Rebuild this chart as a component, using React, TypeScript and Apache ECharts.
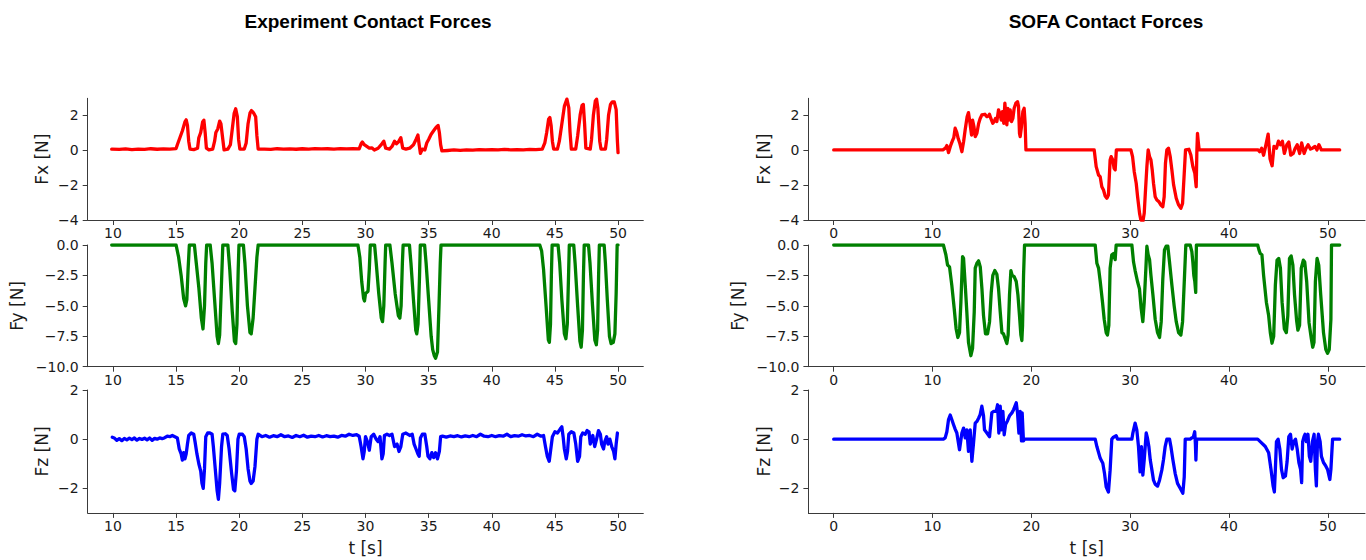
import React, { useEffect, useRef } from "react";
import * as echarts from "echarts";

type P = [number, number];

// ---- Tick labels / axis texts ----
const expTicksX = [10, 15, 20, 25, 30, 35, 40, 45, 50];
const sofaTicksX = [0, 10, 20, 30, 40, 50];
const fxTicks = [-4, -2, 0, 2];
const fyTicks = [-10, -7.5, -5, -2.5, 0];
const fzTicks = [-2, 0, 2];
const rowNames = ["Fx [N]", "Fy [N]", "Fz [N]"];
const titles = ["Experiment Contact Forces", "SOFA Contact Forces"];

// ---- Experiment data [t, value] ----
const expFx: P[] = [
  [9.9, 0.05], [10.5, 0.03], [11, 0.06], [11.5, 0.02], [12, 0.05], [12.5, 0.03], [13, 0.07], [13.5, 0.04], [14, 0.06], [14.5, 0.05], [15, 0.08],
  [15.1, 0.3], [15.3, 0.7], [15.5, 1.1], [15.7, 1.6], [15.8, 1.72], [15.9, 1.4], [16.0, 0.5], [16.1, 0.05],
  [16.4, 0.02], [16.7, 0.1], [16.8, 0.7], [16.95, 1.0], [17.1, 1.6], [17.2, 1.7], [17.3, 1.0], [17.4, 0.1], [17.6, 0.0], [17.9, 0.05],
  [18.05, 0.5], [18.15, 1.0], [18.3, 1.2], [18.45, 1.65], [18.55, 1.5], [18.7, 0.6], [18.8, 0.0], [19.1, 0.05],
  [19.3, 0.3], [19.45, 1.2], [19.6, 2.1], [19.72, 2.35], [19.85, 1.9], [19.95, 0.6], [20.05, 0.05], [20.4, 0.05],
  [20.55, 0.4], [20.7, 1.5], [20.85, 2.1], [20.97, 2.25], [21.15, 2.1], [21.3, 1.9], [21.4, 0.8], [21.5, 0.05],
  [22, 0.05], [22.5, 0.03], [23, 0.07], [23.5, 0.05], [24, 0.06], [24.5, 0.04], [25, 0.07], [25.5, 0.05], [26, 0.08], [26.5, 0.06], [27, 0.07], [27.5, 0.05], [28, 0.08], [28.5, 0.06], [29, 0.07], [29.5, 0.06],
  [29.65, 0.35], [29.75, 0.45], [29.9, 0.3], [30.1, 0.2], [30.3, 0.1], [30.5, 0.12], [30.7, 0.0], [31.0, 0.1], [31.3, 0.35], [31.45, 0.5], [31.6, 0.1], [31.9, 0.05],
  [32.1, 0.2], [32.3, 0.5], [32.45, 0.35], [32.6, 0.45], [32.8, 0.7], [32.95, 0.1], [33.2, 0.05], [33.5, 0.1], [33.8, 0.3], [34.0, 0.6], [34.15, 0.85], [34.25, 0.3], [34.35, -0.2], [34.5, 0.05], [34.7, 0.0],
  [34.85, 0.4], [35.0, 0.6], [35.2, 0.9], [35.45, 1.15], [35.6, 1.3], [35.75, 1.4], [35.85, 1.0], [35.95, 0.3], [36.05, -0.05],
  [36.5, -0.03], [37, 0.0], [37.5, -0.02], [38, 0.01], [38.5, -0.01], [39, 0.02], [39.5, 0.0], [40, 0.02], [40.5, 0.0], [41, 0.03], [41.5, 0.01], [42, 0.02], [42.5, 0.01], [43, 0.03], [43.5, 0.02], [44, 0.05],
  [44.2, 0.4], [44.35, 1.0], [44.5, 1.75], [44.6, 1.85], [44.7, 1.4], [44.8, 0.5], [44.9, 0.05], [45.2, 0.05],
  [45.35, 0.5], [45.55, 1.5], [45.75, 2.5], [45.95, 2.9], [46.1, 2.4], [46.2, 1.0], [46.3, 0.05], [46.65, 0.05],
  [46.8, 0.8], [47.0, 2.0], [47.15, 2.55], [47.25, 2.6], [47.35, 1.5], [47.45, 0.1], [47.8, 0.05],
  [47.9, 0.6], [48.05, 2.0], [48.2, 2.8], [48.3, 2.9], [48.4, 2.4], [48.55, 0.5], [48.65, 0.05], [49.0, 0.05],
  [49.1, 0.6], [49.25, 2.0], [49.4, 2.6], [49.55, 2.75], [49.7, 2.75], [49.85, 2.3], [49.95, 0.5], [50.0, -0.15],
];

const expFy: P[] = [
  [9.9, 0], [15.0, 0], [15.2, -1.0], [15.4, -2.5], [15.6, -4.4], [15.75, -5.0], [15.85, -4.5], [15.95, -2.0], [16.05, 0],
  [16.45, 0], [16.6, -1.5], [16.8, -3.5], [17.0, -6.0], [17.13, -6.9], [17.25, -5.0], [17.35, -1.5], [17.42, 0],
  [17.7, 0], [17.85, -1.5], [18.05, -4.5], [18.25, -7.5], [18.35, -8.1], [18.45, -7.4], [18.6, -3.0], [18.7, 0],
  [19.1, 0], [19.25, -2.0], [19.45, -5.5], [19.62, -7.9], [19.72, -8.1], [19.82, -6.5], [19.92, -2.0], [19.98, 0],
  [20.33, 0], [20.45, -1.5], [20.65, -5.0], [20.85, -7.2], [20.95, -7.3], [21.1, -6.0], [21.25, -3.5], [21.4, -1.0], [21.5, 0],
  [29.4, 0], [29.55, -1.0], [29.7, -3.0], [29.85, -4.4], [29.92, -4.6], [30.0, -4.0], [30.2, -3.8], [30.3, -2.0], [30.38, 0],
  [30.72, 0], [30.85, -1.5], [31.05, -4.0], [31.25, -6.0], [31.35, -6.3], [31.45, -5.0], [31.55, -1.5], [31.6, 0],
  [31.93, 0], [32.1, -1.5], [32.35, -4.0], [32.6, -5.8], [32.72, -6.0], [32.82, -5.0], [32.92, -1.5], [32.98, 0],
  [33.48, 0], [33.6, -1.5], [33.8, -4.5], [33.98, -7.0], [34.06, -7.3], [34.16, -6.5], [34.28, -2.5], [34.34, 0],
  [34.68, 0], [34.8, -1.5], [35.0, -4.5], [35.2, -7.5], [35.32, -8.6], [35.45, -9.1], [35.55, -9.3], [35.7, -8.8], [35.82, -5.0], [35.92, -1.5], [35.98, 0],
  [43.8, 0], [43.95, -0.5], [44.1, -2.0], [44.3, -5.0], [44.48, -7.8], [44.56, -8.0], [44.65, -6.5], [44.72, -2.5], [44.78, 0],
  [45.25, 0], [45.38, -1.5], [45.55, -4.5], [45.75, -7.3], [45.87, -7.7], [45.98, -6.5], [46.08, -2.5], [46.14, 0],
  [46.49, 0], [46.6, -1.5], [46.8, -5.0], [46.98, -7.9], [47.08, -8.4], [47.18, -7.0], [47.26, -2.5], [47.32, 0],
  [47.66, 0], [47.78, -1.5], [47.98, -5.0], [48.16, -7.8], [48.28, -8.2], [48.38, -7.0], [48.46, -2.5], [48.52, 0],
  [48.9, 0], [49.0, -1.5], [49.15, -4.5], [49.32, -7.5], [49.45, -8.1], [49.62, -8.0], [49.75, -7.3], [49.85, -4.0], [49.93, 0], [50.0, 0],
];

const expFz: P[] = [
  [9.95, 0.08], [10.1, 0.05], [10.3, -0.05], [10.5, 0.02], [10.7, -0.06], [10.9, 0.03], [11.1, -0.03], [11.3, 0.04], [11.5, -0.02], [11.7, 0.05], [11.9, -0.04], [12.1, 0.03], [12.3, -0.01], [12.5, 0.04], [12.7, -0.03], [12.9, 0.05], [13.1, -0.05], [13.3, 0.03], [13.5, 0.0], [13.7, 0.05], [13.9, 0.02], [14.1, 0.06], [14.3, 0.12], [14.5, 0.1], [14.7, 0.15], [14.9, 0.1],
  [15.1, 0.05], [15.25, -0.4], [15.4, -0.6], [15.5, -0.85], [15.6, -0.55], [15.7, -0.8], [15.8, -0.6], [15.9, -0.2], [16.0, 0.15], [16.2, 0.25], [16.4, 0.2],
  [16.5, -0.1], [16.65, -0.6], [16.8, -1.0], [16.95, -1.3], [17.05, -1.8], [17.15, -2.0], [17.25, -1.2], [17.35, 0.1], [17.5, 0.25], [17.7, 0.25], [17.85, 0.2],
  [17.95, -0.3], [18.1, -1.2], [18.25, -2.1], [18.35, -2.45], [18.45, -1.8], [18.6, -0.3], [18.7, 0.2], [18.9, 0.22], [19.05, 0.15],
  [19.2, -0.4], [19.4, -1.4], [19.55, -2.05], [19.65, -2.1], [19.78, -1.3], [19.9, 0.0], [20.0, 0.2], [20.25, 0.2], [20.4, 0.1],
  [20.55, -0.4], [20.7, -1.2], [20.85, -1.7], [20.95, -1.8], [21.1, -1.7], [21.25, -1.1], [21.4, 0.0], [21.5, 0.2],
  [21.8, 0.1], [22.1, 0.15], [22.4, 0.08], [22.7, 0.14], [23.0, 0.1], [23.3, 0.18], [23.6, 0.1], [23.9, 0.13], [24.2, 0.07], [24.5, 0.15], [24.8, 0.1], [25.1, 0.16], [25.4, 0.08], [25.7, 0.12], [26.0, 0.1], [26.3, 0.15], [26.6, 0.09], [26.9, 0.14], [27.2, 0.1], [27.5, 0.12], [27.8, 0.08], [28.1, 0.15], [28.4, 0.12], [28.7, 0.2], [29.0, 0.15], [29.3, 0.18], [29.5, 0.12],
  [29.65, -0.3], [29.8, -0.8], [29.9, -0.5], [30.0, 0.1], [30.15, -0.1], [30.3, -0.45], [30.45, 0.1], [30.65, 0.2], [30.85, 0.0], [31.0, -0.1], [31.15, 0.1], [31.3, -0.8], [31.4, -0.6], [31.5, 0.15], [31.7, 0.2], [31.9, 0.15],
  [32.1, 0.2], [32.3, -0.3], [32.5, -0.2], [32.65, -0.5], [32.8, -0.3], [32.95, 0.2], [33.2, 0.25], [33.5, 0.15], [33.7, 0.2], [33.85, -0.2], [34.0, -0.4], [34.15, -0.6], [34.25, -0.7], [34.35, 0.05], [34.5, 0.2], [34.7, 0.2],
  [34.85, -0.3], [34.95, -0.7], [35.1, -0.8], [35.25, -0.55], [35.4, -0.75], [35.55, -0.55], [35.7, -0.8], [35.85, -0.5], [35.95, 0.1], [36.1, 0.12],
  [36.4, 0.08], [36.7, 0.13], [37.0, 0.1], [37.3, 0.14], [37.6, 0.09], [37.9, 0.13], [38.2, 0.1], [38.5, 0.15], [38.8, 0.1], [39.1, 0.2], [39.4, 0.12], [39.7, 0.1], [40.0, 0.15], [40.3, 0.1], [40.6, 0.14], [40.9, 0.12], [41.2, 0.2], [41.5, 0.1], [41.8, 0.14], [42.1, 0.12], [42.4, 0.18], [42.7, 0.13], [43.0, 0.15], [43.3, 0.1], [43.6, 0.2], [43.9, 0.12], [44.1, 0.15],
  [44.25, -0.3], [44.4, -0.7], [44.55, -0.9], [44.65, -0.5], [44.8, 0.1], [45.0, 0.3], [45.2, 0.25], [45.4, 0.4], [45.55, 0.5], [45.65, 0.1], [45.75, -0.4], [45.9, -0.8], [46.0, -0.5], [46.1, 0.2], [46.3, 0.3], [46.5, 0.25],
  [46.65, -0.2], [46.8, -0.9], [46.95, -0.7], [47.05, 0.1], [47.2, 0.25], [47.4, 0.2], [47.55, 0.35], [47.7, 0.3], [47.8, -0.2], [47.9, 0.0], [48.0, 0.15], [48.15, -0.3], [48.3, 0.0], [48.45, 0.35], [48.6, 0.2],
  [48.7, -0.2], [48.85, -0.4], [48.95, -0.1], [49.1, 0.1], [49.2, -0.2], [49.35, 0.0], [49.5, -0.3], [49.65, -0.5], [49.75, -0.8], [49.85, -0.2], [49.95, 0.25],
];

// ---- SOFA data [t, value] ----
const sofaFx: P[] = [
  [0, 0], [11.05, 0], [11.3, 0.1], [11.45, 0.25], [11.62, -0.15], [11.8, 0.2], [12.0, 0.5], [12.15, 0.7], [12.29, 1.24], [12.45, 1.0], [12.6, 0.65], [12.75, 0.4], [12.97, -0.1],
  [13.15, 0.5], [13.3, 1.14], [13.5, 1.9], [13.64, 2.13], [13.8, 1.5], [13.95, 0.85], [14.05, 1.7], [14.2, 1.3], [14.32, 0.76], [14.49, 0.95], [14.66, 1.5], [14.82, 1.8], [14.99, 2.0],
  [15.3, 2.04], [15.5, 1.9], [15.66, 1.94], [15.76, 2.04], [15.9, 1.8], [16.1, 1.52], [16.24, 1.62], [16.37, 1.8], [16.51, 1.62], [16.68, 2.29], [16.85, 2.0], [16.95, 1.71], [17.08, 2.19],
  [17.21, 1.52], [17.32, 2.67], [17.42, 2.0], [17.52, 1.43], [17.62, 2.38], [17.72, 1.71], [17.86, 2.29], [17.99, 1.62], [18.13, 1.81], [18.26, 2.38], [18.43, 2.67], [18.6, 2.76], [18.7, 2.5],
  [18.8, 0.95], [18.87, 0.76], [19.0, 1.33], [19.14, 2.19], [19.27, 2.38], [19.37, 1.52], [19.45, 0],
  [26.36, 0], [26.56, -0.95], [26.8, -1.43], [26.96, -1.52], [27.13, -2.1], [27.3, -2.29], [27.47, -2.63], [27.64, -2.76], [27.8, -2.57], [27.97, -0.57], [28.07, -0.38], [28.24, -0.57], [28.37, -1.05], [28.48, -1.14], [28.6, 0],
  [30.07, 0], [30.24, -0.38], [30.41, -1.24], [30.61, -1.9], [30.75, -2.67], [30.95, -3.62], [31.08, -4.0], [31.28, -4.1], [31.42, -3.62], [31.55, -2.29], [31.69, -0.95], [31.82, 0],
  [31.96, -0.38], [32.1, -0.57], [32.23, -1.14], [32.36, -1.9], [32.53, -2.67], [32.7, -2.86], [32.9, -2.95], [33.1, -3.14], [33.3, -3.24], [33.44, -2.67], [33.57, -0.76], [33.71, 0],
  [33.88, 0.1], [34.05, -0.38], [34.22, -1.14], [34.39, -1.98], [34.66, -2.76], [34.9, -3.14], [35.13, -3.33], [35.3, -3.05], [35.47, -1.33], [35.6, 0],
  [35.94, 0.04], [36.14, -0.29], [36.34, -0.95], [36.54, -1.33], [36.68, -2.1], [36.75, 0], [36.81, 0.95], [36.9, 0.4], [36.98, 0],
  [42.95, 0], [43.1, -0.1], [43.3, 0.1], [43.5, -0.3], [43.7, 0.2], [43.96, 0.9], [44.15, -0.5], [44.36, -0.9], [44.55, 0.2], [44.8, 0.1], [45.0, 0.5], [45.2, 0.3], [45.4, 0.5],
  [45.6, -0.2], [45.85, 0.3], [46.05, 0.45], [46.25, -0.3], [46.5, -0.2], [46.7, 0.1], [46.9, 0.3], [47.15, -0.2], [47.35, 0.4], [47.6, -0.2], [47.8, 0.1], [48.0, 0.3],
  [48.25, 0.05], [48.45, 0.1], [48.7, 0.2], [48.9, 0.0], [49.1, 0.3], [49.35, 0.0], [49.9, 0.0], [51.2, 0.0],
];

const sofaFy: P[] = [
  [0, 0], [11.1, 0], [11.35, -0.8], [11.52, -1.65], [11.72, -1.8], [11.95, -3.3], [12.19, -5.2], [12.39, -6.9], [12.56, -7.6], [12.73, -7.2], [12.87, -4.7], [13.04, -0.96],
  [13.14, -1.1], [13.31, -3.3], [13.47, -5.5], [13.64, -8.0], [13.88, -9.1], [14.05, -8.5], [14.22, -5.5], [14.32, -1.9], [14.49, -1.5], [14.66, -1.3], [14.83, -1.8],
  [15.0, -3.6], [15.16, -5.8], [15.36, -7.3], [15.57, -7.3], [15.77, -6.3], [15.94, -3.9], [16.1, -2.5], [16.3, -2.1], [16.51, -2.4], [16.68, -3.6], [16.85, -5.5],
  [17.02, -7.2], [17.18, -7.3], [17.35, -7.7], [17.52, -8.1], [17.65, -7.4], [17.79, -4.1], [17.93, -2.1], [18.06, -2.5], [18.26, -2.6], [18.47, -3.0], [18.64, -4.1],
  [18.8, -5.8], [18.94, -7.4], [19.04, -7.85], [19.11, -6.6], [19.21, -2.5], [19.31, 0],
  [26.46, 0], [26.63, -1.5], [26.8, -1.9], [26.97, -3.0], [27.2, -4.7], [27.37, -6.1], [27.57, -7.2], [27.7, -7.4], [27.84, -6.6], [27.97, -1.9], [28.14, -0.8], [28.31, -0.7], [28.48, -1.2], [28.58, 0],
  [30.17, 0], [30.34, -1.4], [30.5, -2.1], [30.74, -3.0], [30.94, -3.6], [31.11, -5.2], [31.28, -6.3], [31.42, -4.7], [31.59, -1.9], [31.69, -0.1],
  [31.82, -0.8], [31.96, -1.2], [32.1, -2.5], [32.3, -4.1], [32.53, -6.1], [32.77, -7.2], [32.97, -7.6], [33.14, -6.3], [33.3, -2.8], [33.47, -0.4], [33.64, -0.1],
  [33.81, -0.1], [33.98, -1.4], [34.22, -3.3], [34.45, -5.0], [34.66, -6.3], [34.9, -7.2], [35.13, -7.4], [35.3, -6.3], [35.5, -2.5], [35.63, 0],
  [36.07, 0], [36.24, -0.55], [36.34, -1.4], [36.44, -2.5], [36.54, -3.0], [36.63, -3.9], [36.7, 0],
  [42.9, 0], [43.03, -0.4], [43.16, -0.7], [43.33, -0.8], [43.5, -2.5], [43.78, -4.7], [44.01, -5.8], [44.18, -7.2], [44.35, -8.07], [44.52, -7.5], [44.69, -3.3],
  [44.86, -1.24], [45.03, -1.1], [45.2, -1.9], [45.37, -4.7], [45.6, -6.9], [45.8, -7.2], [45.95, -5.8], [46.12, -1.1], [46.29, -0.9], [46.46, -1.65],
  [46.63, -4.1], [46.84, -6.2], [46.97, -7.0], [47.14, -6.6], [47.31, -1.9], [47.52, -1.24], [47.66, -1.4], [47.86, -3.0], [48.1, -6.4], [48.33, -7.7],
  [48.47, -8.4], [48.6, -8.0], [48.74, -3.0], [48.91, -1.1], [49.08, -1.65], [49.28, -4.1], [49.56, -7.2], [49.8, -8.6], [49.97, -8.9], [50.14, -8.6], [50.31, -6.1], [50.37, 0], [51.2, 0],
];

const sofaFz: P[] = [
  [0, 0], [11.1, 0], [11.28, 0.05], [11.45, 0.3], [11.62, 0.8], [11.79, 0.98], [11.95, 0.8], [12.12, 0.6], [12.3, 0.4], [12.46, 0.25], [12.73, -0.43], [12.97, 0.25],
  [13.14, 0.45], [13.31, 0.05], [13.47, 0.38], [13.64, -0.5], [13.81, 0.38], [13.98, -0.9], [14.15, -0.15], [14.32, 0.65], [14.49, 0.72], [14.66, 0.85], [14.82, 1.0],
  [14.99, 1.34], [15.16, 0.95], [15.26, 0.38], [15.5, 0.25], [15.77, 0.1], [16.0, 1.07], [16.17, 1.13], [16.44, 1.13], [16.58, 1.4], [16.71, 0.25], [16.85, 1.34],
  [16.98, 0.38], [17.12, 1.13], [17.25, 0.18], [17.39, 0.6], [17.59, 0.75], [17.79, 0.95], [18.03, 1.07], [18.2, 1.2], [18.47, 1.48], [18.6, 1.07], [18.74, 0.25],
  [18.87, 1.13], [19.0, -0.07], [19.07, 1.07], [19.2, -0.07], [19.3, 0],
  [26.46, 0], [26.63, -0.3], [26.97, -0.78], [27.23, -0.98], [27.4, -1.39], [27.57, -1.94], [27.8, -2.15], [27.97, -1.26], [28.14, 0], [28.31, 0.08], [28.58, 0.14], [28.72, 0],
  [30.17, 0], [30.27, 0.25], [30.5, 0.65], [30.67, 0.38], [30.84, -0.3], [31.0, -1.33], [31.14, -0.3], [31.28, -1.46], [31.42, -0.84], [31.62, 0.25], [31.75, 0.04],
  [31.89, -0.3], [32.03, -0.84], [32.2, -1.26], [32.36, -1.67], [32.53, -1.83], [32.77, -1.91], [32.97, -1.67], [33.2, -1.26], [33.37, -0.84], [33.54, -0.3], [33.71, 0],
  [33.98, 0], [34.12, -0.3], [34.32, -0.84], [34.55, -1.39], [34.79, -1.8], [35.06, -2.0], [35.33, -2.2], [35.47, -1.53], [35.57, 0],
  [36.07, 0], [36.24, 0.05], [36.4, 0.1], [36.53, 0.3], [36.6, -0.2], [36.65, -0.85], [36.72, 0],
  [42.9, 0], [43.16, -0.1], [43.67, -0.3], [44.01, -0.55], [44.25, -1.23], [44.46, -1.9], [44.59, -2.15], [44.69, -1.23], [44.8, -0.1], [44.97, 0.0],
  [45.14, -0.4], [45.31, -1.23], [45.48, -1.57], [45.71, -1.5], [45.88, -0.9], [46.05, 0.1], [46.22, 0.2], [46.39, -0.4], [46.56, -0.1], [46.73, 0.0],
  [46.9, -0.4], [47.07, -0.95], [47.24, -1.23], [47.35, -1.77], [47.45, -0.1], [47.59, 0.1], [47.69, 0.2], [47.82, -0.1], [47.99, 0.2], [48.13, -0.7],
  [48.27, -0.9], [48.44, -0.1], [48.61, 0.2], [48.74, -1.23], [48.84, -1.9], [48.95, -0.1], [49.05, 0.2], [49.22, -0.1], [49.35, -0.7], [49.56, -0.95],
  [49.8, -1.1], [49.97, -1.23], [50.2, -1.64], [50.31, -1.23], [50.48, 0], [51.2, 0],
];

const seriesData = [expFx, expFy, expFz, sofaFx, sofaFy, sofaFz];
const colors = ["#ff0000", "#008000", "#0000ff"];

const FONT = "DejaVu Sans";
const AXIS_COLOR = "#3a3a3a";
const TEXT_COLOR = "#1a1a1a";

const fmt = (dec: number) => (v: number) => {
  const s = dec > 0 ? v.toFixed(dec) : String(Math.round(v * 100) / 100);
  return s.replace("-", "\u2212");
};

export default function App() {
  const ref = useRef<HTMLDivElement>(null);
  useEffect(() => {
    if (!ref.current) return;
    const chart = echarts.init(ref.current, undefined, { renderer: "svg" });

    const colLeft = [87.7, 808.4];
    const colWidth = [555.6, 556.6];
    const rowTop = [98.3, 245, 390];
    const rowHeight = [121.7, 121.7, 122.9];
    const xRange = [
      [8, 52],
      [-2.56, 53.76],
    ];
    const yCfg = [
      { min: -4, max: 2.95, ticks: fxTicks, dec: 0 },
      { min: -10, max: 0, ticks: fyTicks, dec: 1 },
      { min: -3, max: 2, ticks: fzTicks, dec: 0 },
    ];
    const nameGaps = [
      [37, 62, 37],
      [36, 62, 36],
    ];

    const grid: any[] = [];
    const xAxis: any[] = [];
    const yAxis: any[] = [];
    const series: any[] = [];
    for (let c = 0; c < 2; c++) {
      for (let r = 0; r < 3; r++) {
        const i = c * 3 + r;
        grid.push({
          left: colLeft[c],
          top: rowTop[r],
          width: colWidth[c],
          height: rowHeight[r],
          containLabel: false,
        });
        const ticksX = c === 0 ? expTicksX : sofaTicksX;
        xAxis.push({
          type: "value",
          gridIndex: i,
          min: xRange[c][0],
          max: xRange[c][1],
          name: r === 2 ? "t [s]" : "",
          nameLocation: "middle",
          nameGap: 27,
          nameTextStyle: { fontFamily: FONT, fontSize: 17, color: TEXT_COLOR },
          axisLine: { show: true, onZero: false, lineStyle: { color: AXIS_COLOR, width: 1 } },
          axisTick: { show: true, length: 5, inside: false, customValues: ticksX, lineStyle: { color: AXIS_COLOR } },
          axisLabel: {
            customValues: ticksX,
            fontFamily: FONT,
            fontSize: 14,
            color: TEXT_COLOR,
            margin: 6,
            formatter: fmt(0),
          },
          splitLine: { show: false },
        });
        const yc = yCfg[r];
        yAxis.push({
          type: "value",
          gridIndex: i,
          min: yc.min,
          max: yc.max,
          name: rowNames[r],
          nameLocation: "middle",
          nameGap: nameGaps[c][r],
          nameTextStyle: { fontFamily: FONT, fontSize: 17, color: TEXT_COLOR },
          axisLine: { show: true, onZero: false, lineStyle: { color: AXIS_COLOR, width: 1 } },
          axisTick: { show: true, length: 5, inside: false, customValues: yc.ticks, lineStyle: { color: AXIS_COLOR } },
          axisLabel: {
            customValues: yc.ticks,
            fontFamily: FONT,
            fontSize: 14,
            color: TEXT_COLOR,
            margin: 9,
            formatter: fmt(yc.dec),
          },
          splitLine: { show: false },
        });
        series.push({
          type: "line",
          xAxisIndex: i,
          yAxisIndex: i,
          data: seriesData[i],
          showSymbol: false,
          symbol: "none",
          clip: true,
          lineStyle: { color: colors[r], width: 3.3, join: "round", cap: "round" },
          itemStyle: { color: colors[r] },
          silent: true,
        });
      }
    }

    chart.setOption({
      animation: false,
      backgroundColor: "#ffffff",
      title: [
        {
          text: titles[0],
          left: 363,
          top: 7,
          textAlign: "center",
          textStyle: { fontFamily: "Liberation Sans", fontWeight: "bold", fontSize: 19, color: "#000" },
        },
        {
          text: titles[1],
          left: 1101,
          top: 7,
          textAlign: "center",
          textStyle: { fontFamily: "Liberation Sans", fontWeight: "bold", fontSize: 19, color: "#000" },
        },
      ],
      grid,
      xAxis,
      yAxis,
      series,
    });
    return () => chart.dispose();
  }, []);
  return (
    <div
      ref={ref}
      style={{ position: "fixed", left: 0, top: 0, width: 1366, height: 560, background: "#fff" }}
    />
  );
}
